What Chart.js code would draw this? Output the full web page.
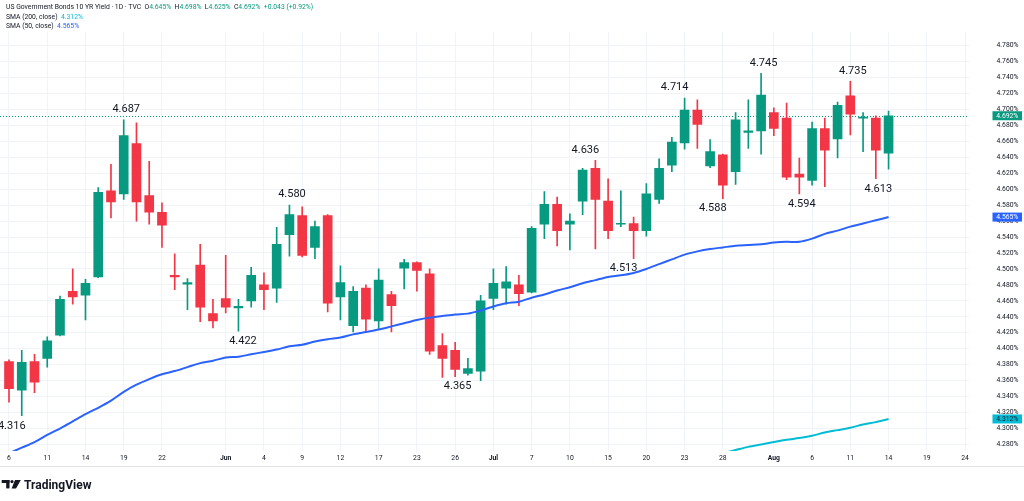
<!DOCTYPE html>
<html>
<head>
<meta charset="utf-8">
<title>US Government Bonds 10 YR Yield</title>
<script src="https://cdn.jsdelivr.net/npm/chart.js@4.4.1/dist/chart.umd.min.js"></script>
<style>
  html, body { margin: 0; padding: 0; background: #fff; }
  #wrap { width: 1024px; height: 501px; }
</style>
</head>
<body>
<div id="wrap"><canvas id="chart" width="1024" height="501"></canvas></div>
<script>
// daily candles, one slot per trading day (index 0 = May 6)
const opens  = [4.384, 4.348, 4.384, 4.388, 4.417, 4.472, 4.467, 4.490, 4.598, 4.594,
                4.657, 4.592, 4.571, 4.492, 4.481, 4.505, 4.444, 4.463, 4.451, 4.460,
                4.480, 4.476, 4.543, 4.567, 4.527, 4.567, 4.465, 4.429, 4.476, 4.435,
                4.468, 4.501, 4.508, 4.494, 4.404, 4.398, 4.369, 4.372, 4.463, 4.476,
                4.480, 4.471, 4.556, 4.581, 4.556, 4.585, 4.626, 4.585, 4.556, 4.557,
                4.548, 4.587, 4.630, 4.658, 4.699, 4.629, 4.643, 4.622, 4.671, 4.673,
                4.696, 4.689, 4.619, 4.611, 4.676, 4.663, 4.717, 4.689, 4.689, 4.645];
const highs  = [4.386, 4.398, 4.393, 4.415, 4.466, 4.500, 4.487, 4.602, 4.631, 4.687,
                4.683, 4.635, 4.583, 4.519, 4.488, 4.531, 4.462, 4.517, 4.462, 4.502,
                4.495, 4.552, 4.580, 4.578, 4.560, 4.568, 4.504, 4.478, 4.480, 4.500,
                4.472, 4.512, 4.509, 4.500, 4.419, 4.408, 4.388, 4.467, 4.500, 4.503,
                4.492, 4.553, 4.597, 4.590, 4.569, 4.626, 4.636, 4.613, 4.598, 4.565,
                4.607, 4.638, 4.665, 4.714, 4.712, 4.662, 4.644, 4.696, 4.712, 4.745,
                4.702, 4.708, 4.639, 4.684, 4.689, 4.709, 4.735, 4.696, 4.692, 4.698];
const lows   = [4.333, 4.316, 4.345, 4.377, 4.416, 4.456, 4.436, 4.489, 4.564, 4.587,
                4.560, 4.556, 4.527, 4.474, 4.449, 4.434, 4.426, 4.445, 4.422, 4.452,
                4.449, 4.458, 4.516, 4.515, 4.513, 4.446, 4.436, 4.421, 4.421, 4.425,
                4.421, 4.475, 4.472, 4.393, 4.364, 4.365, 4.367, 4.360, 4.449, 4.456,
                4.454, 4.470, 4.538, 4.529, 4.524, 4.568, 4.525, 4.538, 4.553, 4.513,
                4.541, 4.582, 4.622, 4.650, 4.651, 4.627, 4.588, 4.606, 4.651, 4.644,
                4.667, 4.612, 4.594, 4.605, 4.603, 4.639, 4.668, 4.647, 4.613, 4.625];
const closes = [4.350, 4.383, 4.358, 4.410, 4.462, 4.465, 4.482, 4.596, 4.584, 4.667,
                4.584, 4.571, 4.555, 4.490, 4.483, 4.452, 4.435, 4.452, 4.453, 4.492,
                4.474, 4.531, 4.568, 4.517, 4.553, 4.457, 4.483, 4.472, 4.437, 4.486,
                4.454, 4.508, 4.498, 4.397, 4.388, 4.374, 4.375, 4.460, 4.482, 4.484,
                4.469, 4.551, 4.581, 4.548, 4.560, 4.624, 4.587, 4.548, 4.557, 4.548,
                4.594, 4.626, 4.659, 4.699, 4.681, 4.647, 4.605, 4.687, 4.673, 4.718,
                4.676, 4.615, 4.615, 4.676, 4.649, 4.705, 4.694, 4.690, 4.649, 4.692];

const sma50  = [4.269, 4.276, 4.283, 4.292, 4.300, 4.309, 4.318, 4.326, 4.335, 4.346,
                4.355, 4.362, 4.368, 4.372, 4.377, 4.382, 4.385, 4.389, 4.390, 4.393,
                4.396, 4.399, 4.403, 4.405, 4.409, 4.412, 4.414, 4.418, 4.421, 4.424,
                4.428, 4.432, 4.436, 4.439, 4.441, 4.443, 4.444, 4.448, 4.453, 4.457,
                4.459, 4.464, 4.468, 4.473, 4.477, 4.482, 4.486, 4.490, 4.492, 4.495,
                4.500, 4.506, 4.512, 4.518, 4.522, 4.525, 4.527, 4.529, 4.530, 4.531,
                4.533, 4.534, 4.534, 4.538, 4.544, 4.548, 4.553, 4.557, 4.561, 4.565];
const sma200 = [null, null, null, null, null, null, null, null, null, null,
                null, null, null, null, null, null, null, null, null, null,
                null, null, null, null, null, null, null, null, null, null,
                null, null, null, null, null, null, null, null, null, null,
                null, null, null, null, null, null, null, null, null, null,
                null, null, null, null, null, null, 4.269, 4.273, 4.277, 4.280,
                4.283, 4.286, 4.288, 4.291, 4.295, 4.298, 4.301, 4.305, 4.308, 4.312];

// time axis labels (slot index and text)
const tickIndex = [0, 3, 6, 9, 12, 17, 20, 23, 26, 29, 32, 35, 38, 41, 44, 47, 50, 53, 56, 60, 63, 66, 69, 72, 75];
const tickText  = ['6', '11', '14', '19', '22', 'Jun', '4', '9', '12', '17', '23', '26', 'Jul',
                   '7', '10', '15', '20', '23', '28', 'Aug', '6', '11', '14', '19', '24'];
const yTicks = [4.28, 4.30, 4.32, 4.34, 4.36, 4.38, 4.40, 4.42, 4.44, 4.46, 4.48, 4.50, 4.52,
                4.54, 4.56, 4.58, 4.60, 4.62, 4.64, 4.66, 4.68, 4.70, 4.72, 4.74, 4.76, 4.78];

// swing highs / lows that were marked on the chart
const calloutBars = [1, 9, 18, 22, 35, 46, 49, 53, 56, 59, 62, 66, 68];
const calloutSide = ['low', 'high', 'low', 'high', 'low', 'high', 'low', 'high', 'low', 'high', 'low', 'high', 'low'];

const UP = '#089981';
const DOWN = '#f23645';
const TEXT = '#131722';
const GRID = '#f0f3fa';
const FONT = 'Roboto, "Noto Sans", sans-serif';
const last = closes.length - 1;

const candleColor = opens.map((o, i) => closes[i] >= o ? UP : DOWN);

// little sideways nudges so the marks sit where they were typed
const calloutNudge = {1: -10, 18: 4.5, 46: -10, 49: -10, 53: -10, 56: -10};

function drawLogo(ctx) {
    ctx.fillStyle = TEXT;
    ctx.fillRect(1.7, 480, 7.8, 3);
    ctx.fillRect(6.2, 480, 3.3, 8.4);
    ctx.beginPath();
    ctx.arc(12, 481.6, 1.6, 0, Math.PI * 2);
    ctx.fill();
    ctx.beginPath();
    ctx.moveTo(15, 480);
    ctx.lineTo(20.8, 480);
    ctx.lineTo(16, 488.4);
    ctx.lineTo(11.6, 488.4);
    ctx.closePath();
    ctx.fill();
    ctx.font = 'bold 12px ' + FONT;
    ctx.textBaseline = 'alphabetic';
    ctx.textAlign = 'left';
    ctx.fillText('TradingView', 24, 489);
}

function drawHeader(ctx) {
    ctx.font = '6.8px ' + FONT;
    ctx.textBaseline = 'middle';
    ctx.textAlign = 'left';
    const chg = closes[last] - closes[last - 1];
    const pct = chg / closes[last - 1] * 100;
    const sign = chg >= 0 ? '+' : '';
    const rows = [
        [7, [['US Government Bonds 10 YR Yield \u00b7 1D \u00b7 TVC  ', TEXT],
             ['O', TEXT], [opens[last].toFixed(3) + '%  ', UP],
             ['H', TEXT], [highs[last].toFixed(3) + '%  ', UP],
             ['L', TEXT], [lows[last].toFixed(3) + '%  ', UP],
             ['C', TEXT], [closes[last].toFixed(3) + '%  ', UP],
             [sign + chg.toFixed(3) + ' (' + sign + pct.toFixed(2) + '%)', UP]]],
        [17, [['SMA (200, close)  ', TEXT], [sma200[last].toFixed(3) + '%', '#00bcd4']]],
        [26.5, [['SMA (50, close)  ', TEXT], [sma50[last].toFixed(3) + '%', '#2962ff']]]
    ];
    rows.forEach(([yy, parts]) => {
        let x = 6;
        parts.forEach(([txt, col]) => {
            ctx.fillStyle = col;
            ctx.fillText(txt, x, yy);
            x += ctx.measureText(txt).width;
        });
    });
}

const overlay = {
    id: 'overlay',
    beforeDatasetsDraw(chart) {
        const {ctx, chartArea, scales: {y}} = chart;
        const py = Math.round(y.getPixelForValue(closes[last])) + 0.5;
        ctx.save();
        ctx.strokeStyle = UP;
        ctx.lineWidth = 1;
        ctx.setLineDash([1, 2]);
        ctx.beginPath();
        ctx.moveTo(chartArea.left, py);
        ctx.lineTo(chartArea.right, py);
        ctx.stroke();
        ctx.restore();
    },
    afterDraw(chart) {
        const {ctx, scales: {x, y}} = chart;
        ctx.save();

        // high / low marks
        ctx.font = '11px ' + FONT;
        ctx.fillStyle = TEXT;
        ctx.textAlign = 'center';
        ctx.textBaseline = 'middle';
        calloutBars.forEach((b, k) => {
            const isHigh = calloutSide[k] === 'high';
            const v = isHigh ? highs[b] : lows[b];
            const px = x.getPixelForValue(b) + (calloutNudge[b] !== undefined ? calloutNudge[b] : 2.5);
            const py = y.getPixelForValue(v) + (isHigh ? -10.5 : 10);
            ctx.fillText(v.toFixed(3), px, py);
        });

        // last value boxes on the price axis
        ctx.font = '6.8px ' + FONT;
        [[closes[last], UP, '#ffffff'],
         [sma50[last], '#2962ff', '#ffffff'],
         [sma200[last], '#00bcd4', TEXT]].forEach(([v, bg, fg]) => {
            const py = y.getPixelForValue(v);
            ctx.fillStyle = bg;
            ctx.fillRect(992.5, py - 4.5, 29.5, 9);
            ctx.fillStyle = fg;
            ctx.fillText(v.toFixed(3) + '%', 1007.3, py + 0.3);
        });

        // frame line under the time axis
        ctx.strokeStyle = '#e0e3eb';
        ctx.lineWidth = 1;
        ctx.beginPath();
        ctx.moveTo(0, 466.5);
        ctx.lineTo(1024, 466.5);
        ctx.stroke();

        drawHeader(ctx);
        drawLogo(ctx);
        ctx.restore();
    }
};

function isMonth(v) {
    return ['Jun', 'Jul', 'Aug'].includes(tickText[tickIndex.indexOf(v)]);
}

new Chart(document.getElementById('chart'), {
    type: 'bar',
    data: {
        datasets: [
            {
                type: 'line',
                label: 'SMA 50',
                data: sma50.map((v, i) => ({x: i, y: v})),
                borderColor: '#2962ff',
                borderWidth: 2,
                pointRadius: 0,
                tension: 0.3,
                order: 0
            },
            {
                type: 'line',
                label: 'SMA 200',
                data: sma200.map((v, i) => ({x: i, y: v})),
                borderColor: '#00bcd4',
                borderWidth: 2,
                pointRadius: 0,
                tension: 0.3,
                order: 0
            },
            {
                label: 'body',
                data: opens.map((o, i) => ({x: i, y: [o, closes[i]]})),
                backgroundColor: candleColor,
                borderWidth: 0,
                barThickness: 9,
                minBarLength: 1,
                grouped: false,
                order: 1
            },
            {
                label: 'wick',
                data: lows.map((l, i) => ({x: i, y: [l, highs[i]]})),
                backgroundColor: candleColor,
                borderWidth: 0,
                barThickness: 1,
                grouped: false,
                order: 2
            }
        ]
    },
    options: {
        responsive: false,
        animation: false,
        layout: { padding: 0 },
        plugins: {
            legend: { display: false },
            tooltip: { enabled: false }
        },
        scales: {
            x: {
                type: 'linear',
                position: 'bottom',
                min: -0.706,
                max: 75.31,
                offset: false,
                grid: { color: GRID, drawTicks: false, offset: false },
                border: { display: false },
                afterBuildTicks: s => { s.ticks = tickIndex.map(v => ({value: v})); },
                afterFit: s => { s.height = 50; },
                ticks: {
                    autoSkip: false,
                    maxRotation: 0,
                    padding: 3.5,
                    color: TEXT,
                    font: c => ({
                        family: FONT,
                        size: 6.8,
                        weight: (c.tick && isMonth(c.tick.value)) ? 'bold' : 'normal'
                    }),
                    callback: v => tickText[tickIndex.indexOf(v)]
                }
            },
            y: {
                position: 'right',
                min: 4.27184,
                max: 4.79748,
                beginAtZero: false,
                grid: { color: GRID, drawTicks: false },
                border: { display: false },
                afterBuildTicks: s => { s.ticks = yTicks.map(v => ({value: v})); },
                afterFit: s => { s.width = 55; },
                ticks: {
                    padding: 27.5,
                    color: TEXT,
                    font: { family: FONT, size: 6.8 },
                    callback: v => v.toFixed(3) + '%'
                }
            }
        }
    },
    plugins: [overlay]
});
</script>
</body>
</html>
